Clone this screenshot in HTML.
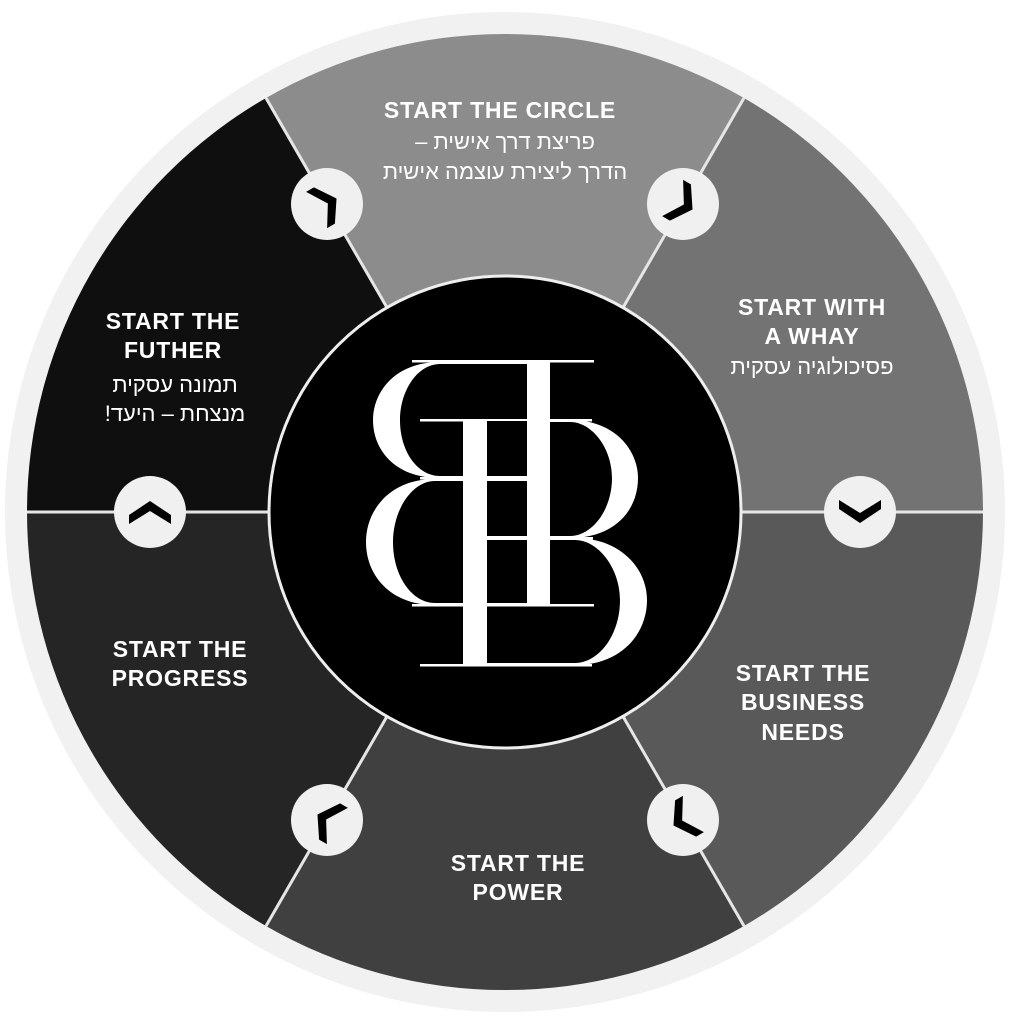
<!DOCTYPE html>
<html><head><meta charset="utf-8"><style>
html,body{margin:0;padding:0;background:#fff;width:1009px;height:1024px;overflow:hidden}
svg{display:block}
.t{font-family:"Liberation Sans",sans-serif;font-weight:bold;fill:#fff;font-size:23px;text-anchor:middle;letter-spacing:0.8px}
.h{font-family:"Liberation Sans","Noto Sans CJK JP",sans-serif;fill:#fff;font-size:22px;text-anchor:middle;direction:rtl}
</style></head><body>
<svg width="1009" height="1024" viewBox="0 0 1009 1024" xmlns="http://www.w3.org/2000/svg">
<circle cx="505" cy="512" r="500" fill="#f1f1f1"/>
<path d="M505,512 L744,98 A478,478 0 0,0 266,98 Z" fill="#8c8c8c"/>
<path d="M505,512 L983,512 A478,478 0 0,0 744,98 Z" fill="#737373"/>
<path d="M505,512 L744,926 A478,478 0 0,0 983,512 Z" fill="#595959"/>
<path d="M505,512 L266,926 A478,478 0 0,0 744,926 Z" fill="#404040"/>
<path d="M505,512 L27,512 A478,478 0 0,0 266,926 Z" fill="#252525"/>
<path d="M505,512 L266,98 A478,478 0 0,0 27,512 Z" fill="#0f0f0f"/>
<g stroke="#e6e6e6" stroke-width="3">
<line x1="505" y1="512" x2="983" y2="512"/>
<line x1="505" y1="512" x2="27" y2="512"/>
<line x1="505" y1="512" x2="744" y2="98"/>
<line x1="505" y1="512" x2="266" y2="98"/>
<line x1="505" y1="512" x2="744" y2="926"/>
<line x1="505" y1="512" x2="266" y2="926"/>
</g>
<circle cx="505" cy="512" r="236" fill="#000" stroke="#eeeeee" stroke-width="3"/>
<g fill="#fff">
<rect x="527" y="362" width="23" height="243"/>
<rect x="412" y="360" width="182" height="2.5"/>
<rect x="412" y="604" width="182" height="2.5"/>
<rect x="420" y="477" width="130" height="2.5"/>
<path fill-rule="evenodd" d="M527,362 L440,362 C395,362 373,392 373,420 C373,450 395,478 440,478 L527,478 Z M527,364 L440,364 C418,364 400,390 400,420 C400,452 418,476 440,476 L527,476 Z"/>
<path fill-rule="evenodd" d="M527,479 L435,479 C390,479 366,510 366,542 C366,575 390,605 435,605 L527,605 Z M527,481 L435,481 C412,481 393,510 393,542 C393,576 412,603 435,603 L527,603 Z"/>
<rect x="463" y="420" width="24" height="245"/>
<rect x="420" y="419" width="172" height="2.5"/>
<rect x="420" y="664" width="172" height="2.5"/>
<rect x="463" y="537" width="130" height="2.5"/>
<path fill-rule="evenodd" d="M487,420 L570,420 C615,420 638,450 638,478 C638,510 615,538 570,538 L487,538 Z M487,422 L570,422 C592,422 612,448 612,478 C612,510 592,536 570,536 L487,536 Z"/>
<path fill-rule="evenodd" d="M487,538 L575,538 C620,538 647,568 647,600 C647,635 620,665 575,665 L487,665 Z M487,540 L575,540 C598,540 620,568 620,600 C620,636 598,663 575,663 L487,663 Z"/>
<rect x="487" y="421" width="40" height="2.5" fill="#000"/>
</g>
<g fill="#f0f0f0">
<circle cx="150" cy="512" r="36"/><circle cx="860" cy="512" r="36"/>
<circle cx="327" cy="204" r="36"/><circle cx="683" cy="204" r="36"/>
<circle cx="327" cy="820" r="36"/><circle cx="683" cy="820" r="36"/>
</g>
<g fill="#000">
<polygon transform="translate(150,512)" points="-21,3 0,-11 21,3 21,12 0,-1 -21,12"/>
<polygon transform="translate(327,204) rotate(60)" points="-21,3 0,-11 21,3 21,12 0,-1 -21,12"/>
<polygon transform="translate(683,204) rotate(120)" points="-21,3 0,-11 21,3 21,12 0,-1 -21,12"/>
<polygon transform="translate(860,512) rotate(180)" points="-21,3 0,-11 21,3 21,12 0,-1 -21,12"/>
<polygon transform="translate(683,820) rotate(240)" points="-21,3 0,-11 21,3 21,12 0,-1 -21,12"/>
<polygon transform="translate(327,820) rotate(300)" points="-21,3 0,-11 21,3 21,12 0,-1 -21,12"/>
</g>
<text class="t" x="500" y="118">START THE CIRCLE</text>
<text class="h" x="505" y="149">פריצת דרך אישית –</text>
<text class="h" x="505" y="179">הדרך ליצירת עוצמה אישית</text>
<text class="t" x="812" y="315">START WITH</text>
<text class="t" x="812" y="344">A WHAY</text>
<text class="h" x="812" y="374">פסיכולוגיה עסקית</text>
<text class="t" x="803" y="681">START THE</text>
<text class="t" x="803" y="710">BUSINESS</text>
<text class="t" x="803" y="740">NEEDS</text>
<text class="t" x="518" y="871">START THE</text>
<text class="t" x="518" y="900">POWER</text>
<text class="t" x="180" y="657">START THE</text>
<text class="t" x="180" y="686">PROGRESS</text>
<text class="t" x="173" y="329">START THE</text>
<text class="t" x="173" y="358">FUTHER</text>
<text class="h" x="175" y="392">תמונה עסקית</text>
<text class="h" x="175" y="421">מנצחת – היעד!</text>
</svg>
</body></html>
